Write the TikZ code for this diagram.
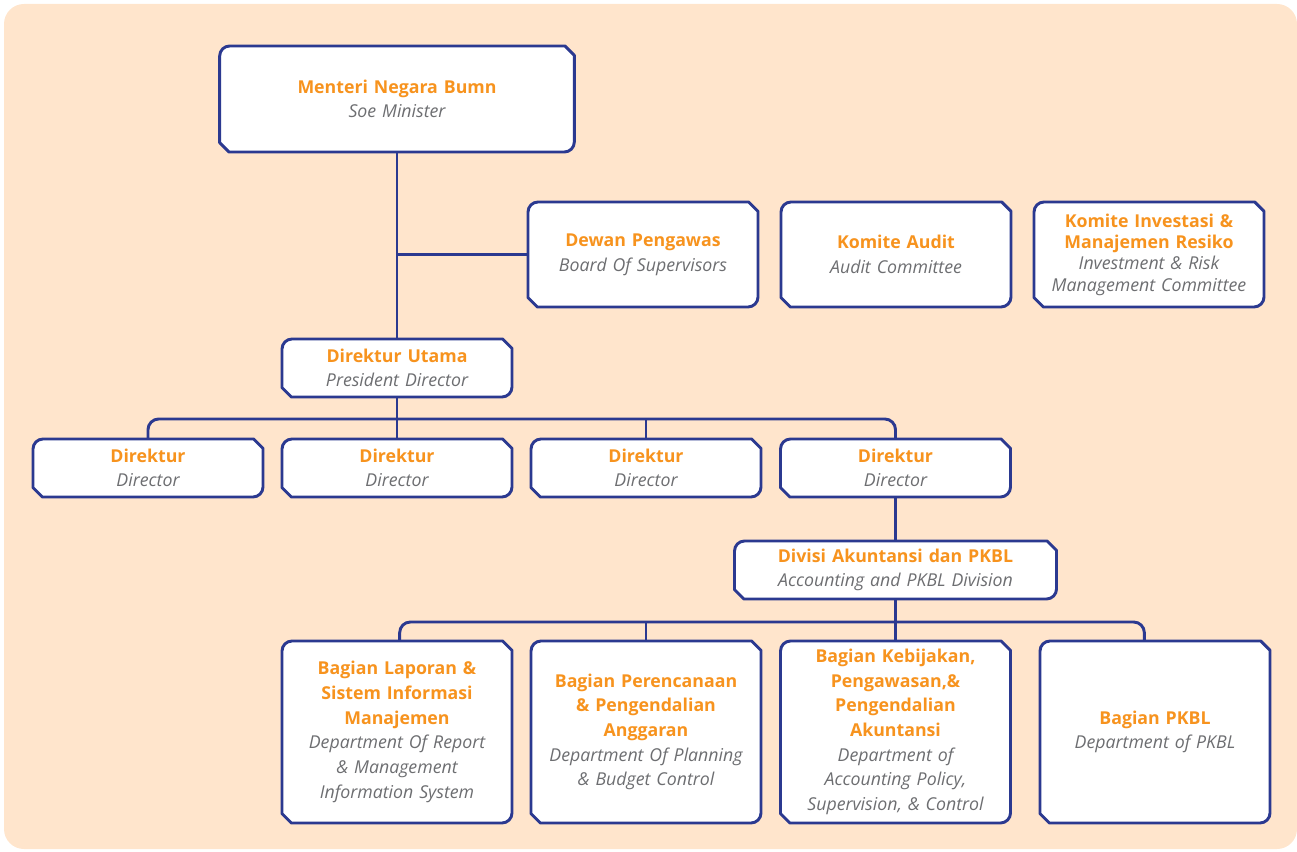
\documentclass[tikz,border=0pt]{standalone}
\usepackage{fontspec}
\setmainfont{Open Sans}

\definecolor{peach}{HTML}{FFE5CC}
\definecolor{navy}{HTML}{2B3990}
\definecolor{titleorange}{HTML}{F7931E}
\definecolor{subgray}{HTML}{6D6E71}

\pgfdeclarelayer{panel}
\pgfdeclarelayer{frames}
\pgfsetlayers{panel,frames,main}

\newcommand{\ttl}[1]{{\color{titleorange}\bfseries #1\par}}
\newcommand{\sub}[1]{{\color{subgray}\itshape #1\par}}
% white box: round top left and bottom right, cut top right and bottom left
\newcommand{\chartframe}[1]{%
  \filldraw[orgframe] ([yshift=-7.5pt]#1.north west) arc[start angle=180, end angle=90, radius=7.5pt]
    -- ([xshift=-7pt]#1.north east) -- ([yshift=-7pt]#1.north east)
    -- ([yshift=7.5pt]#1.south east) arc[start angle=0, end angle=-90, radius=7.5pt]
    -- ([xshift=7pt]#1.south west) -- ([yshift=7pt]#1.south west) -- cycle;}

\tikzset{
  orgunit/.style={inner sep=0pt, outer sep=0pt, align=center, font=\fontsize{13.3}{18.5}\selectfont},
  boxwide/.style={text width=256pt, minimum width=266pt, minimum height=79.5pt},
  boxupper/.style={text width=166pt, minimum width=172.5pt, minimum height=78.75pt},
  boxslim/.style={text width=166pt, minimum width=172.5pt, minimum height=43.5pt},
  boxtall/.style={text width=166pt, minimum width=172.5pt, minimum height=136.5pt},
  link/.style={draw=navy, line width=2.2pt},
  orgframe/.style={fill=white, draw=navy, line width=2.2pt, line join=round},
}

\begin{document}
\begin{tikzpicture}[x=0.75pt, y=-0.75pt]
	\useasboundingbox (0,0) rectangle (1297,852);
	\begin{pgfonlayer}{panel}
		\fill[peach, rounded corners=15pt] (4,4) rectangle (1297,849);
	\end{pgfonlayer}

	\node (minister) at (397,99) [orgunit, boxwide] {\ttl{Menteri Negara Bumn}\sub{Soe Minister}};
	\node (dewan) at (643,254.5) [orgunit, boxupper] {\ttl{Dewan Pengawas}\sub{Board Of Supervisors}};
	\node (audit) at (896,254.5) [orgunit, boxupper] {\ttl{Komite Audit}\sub{Audit Committee}};
	\node (risk) at (1149,254.5) [orgunit, boxupper, font=\fontsize{13.3}{16}\selectfont] {\ttl{Komite Investasi \&\\Manajemen Resiko}\sub{Investment \& Risk\\Management Committee}};

	\node (dirut) at (397,368) [orgunit, boxslim] {\ttl{Direktur Utama}\sub{President Director}};
	\node (dir1) at (148,468) [orgunit, boxslim] {\ttl{Direktur}\sub{Director}};
	\node (dir2) at (397,468) [orgunit, boxslim] {\ttl{Direktur}\sub{Director}};
	\node (dir3) at (646,468) [orgunit, boxslim] {\ttl{Direktur}\sub{Director}};
	\node (dir4) at (895.5,468) [orgunit, boxslim] {\ttl{Direktur}\sub{Director}};

	\node (divisi) at (895.5,570) [orgunit, boxslim, text width=232pt, minimum width=241.5pt] {\ttl{Divisi Akuntansi dan PKBL}\sub{Accounting and PKBL Division}};

	\node (dep1) at (397,732) [orgunit, boxtall] {\ttl{Bagian Laporan \&\\Sistem Informasi\\Manajemen}\sub{Department Of Report\\\& Management\\Information System}};
	\node (dep2) at (646,732) [orgunit, boxtall] {\ttl{Bagian Perencanaan\\\& Pengendalian\\Anggaran}\sub{Department Of Planning\\\& Budget Control}};
	\node (dep3) at (895.5,732) [orgunit, boxtall] {\ttl{Bagian Kebijakan,\\Pengawasan,\&\\Pengendalian\\Akuntansi}\sub{Department of\\Accounting Policy,\\Supervision, \& Control}};
	\node (dep4) at (1155,732) [orgunit, boxtall] {\ttl{Bagian PKBL}\sub{Department of PKBL}};

	\begin{pgfonlayer}{frames}
		\foreach \n in {minister,dewan,audit,risk,dirut,dir1,dir2,dir3,dir4,divisi,dep1,dep2,dep3,dep4}
			\chartframe{\n};
	\end{pgfonlayer}

	\coordinate (busA) at (397,419);
	\coordinate (busB) at (895.5,622);
	\draw[link] (minister.south) -- (dirut.north);
	\draw[link] (dewan.west) -- (dewan.west -| minister.south);
	\draw[link, rounded corners=8pt] (dir1.north) |- (busA) -| (dir4.north);
	\draw[link] (dirut.south) -- (dir2.north);
	\draw[link] (busA -| dir3.north) -- (dir3.north);
	\draw[link] (dir4.south) -- (divisi.north);
	\draw[link] (divisi.south) -- (dep3.north);
	\draw[link, rounded corners=8pt] ([xshift=2pt]dep1.north) |- (busB) -| ([xshift=-8pt]dep4.north);
	\draw[link] (busB -| dep2.north) -- (dep2.north);
\end{tikzpicture}
\end{document}
